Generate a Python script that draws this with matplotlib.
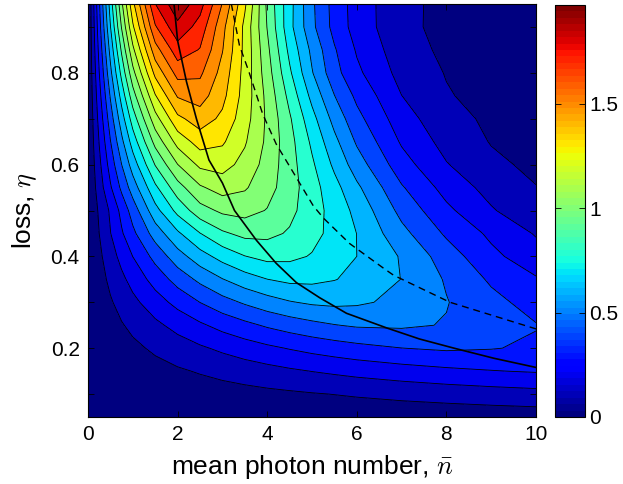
import numpy as np
import matplotlib
matplotlib.use('Agg')
import matplotlib.pyplot as plt
from matplotlib import colors as mcolors
from matplotlib.cm import ScalarMappable

plt.rcParams['font.family'] = ['Liberation Sans', 'DejaVu Sans']
plt.rcParams['mathtext.fontset'] = 'cm'

# grid
n_vals = [0, 0.25, 0.5, 0.75, 1, 1.5, 2, 2.5, 3, 3.5, 4, 4.5, 5, 5.5, 6, 7, 8, 9, 10]
eta_vals = [0.05, 0.1, 0.15, 0.2, 0.25, 0.3, 0.35, 0.4, 0.45, 0.5,
            0.55, 0.6, 0.65, 0.7, 0.75, 0.8, 0.85, 0.9, 0.95]

z_005 = [0, 0.001, 0.003, 0.004, 0.005, 0.008, 0.010, 0.013, 0.015, 0.018, 0.020, 0.022, 0.025, 0.027, 0.029, 0.034, 0.038, 0.043, 0.047]
z_010 = [0, 0.005, 0.010, 0.015, 0.020, 0.030, 0.040, 0.049, 0.059, 0.068, 0.077, 0.085, 0.094, 0.102, 0.111, 0.127, 0.141, 0.154, 0.166]
z_015 = [0, 0.011, 0.023, 0.034, 0.046, 0.067, 0.088, 0.108, 0.128, 0.147, 0.166, 0.185, 0.202, 0.217, 0.232, 0.257, 0.279, 0.296, 0.308]
z_020 = [0, 0.020, 0.040, 0.060, 0.079, 0.116, 0.152, 0.186, 0.219, 0.251, 0.280, 0.306, 0.330, 0.351, 0.370, 0.399, 0.415, 0.405, 0.385]
z_025 = [0, 0.031, 0.062, 0.093, 0.122, 0.178, 0.232, 0.284, 0.333, 0.374, 0.413, 0.445, 0.473, 0.496, 0.512, 0.516, 0.494, 0.455, 0.405]
z_030 = [0, 0.045, 0.090, 0.133, 0.175, 0.255, 0.331, 0.401, 0.462, 0.513, 0.557, 0.593, 0.615, 0.623, 0.615, 0.576, 0.505, 0.430, 0.360]
z_035 = [0, 0.061, 0.122, 0.178, 0.234, 0.339, 0.439, 0.524, 0.596, 0.655, 0.699, 0.723, 0.723, 0.704, 0.675, 0.598, 0.490, 0.385, 0.310]
z_040 = [0, 0.079, 0.157, 0.230, 0.301, 0.432, 0.557, 0.658, 0.737, 0.797, 0.830, 0.823, 0.793, 0.750, 0.700, 0.591, 0.450, 0.325, 0.240]
z_045 = [0, 0.100, 0.197, 0.288, 0.376, 0.544, 0.683, 0.797, 0.884, 0.928, 0.926, 0.889, 0.832, 0.768, 0.699, 0.530, 0.385, 0.280, 0.192]
z_050 = [0, 0.115, 0.215, 0.330, 0.445, 0.665, 0.830, 0.960, 1.020, 1.035, 0.995, 0.927, 0.845, 0.762, 0.672, 0.470, 0.322, 0.210, 0.125]
z_055 = [0, 0.149, 0.288, 0.422, 0.548, 0.779, 0.958, 1.086, 1.144, 1.111, 1.039, 0.945, 0.841, 0.734, 0.620, 0.410, 0.264, 0.164, 0.103]
z_060 = [0, 0.176, 0.342, 0.499, 0.646, 0.905, 1.098, 1.222, 1.237, 1.168, 1.061, 0.942, 0.816, 0.680, 0.549, 0.342, 0.206, 0.121, 0.079]
z_065 = [0, 0.204, 0.396, 0.575, 0.745, 1.033, 1.237, 1.344, 1.314, 1.211, 1.079, 0.936, 0.781, 0.627, 0.487, 0.288, 0.165, 0.095, 0.062]
z_070 = [0, 0.233, 0.451, 0.654, 0.847, 1.160, 1.376, 1.450, 1.379, 1.242, 1.083, 0.913, 0.734, 0.566, 0.431, 0.243, 0.134, 0.082, 0.052]
z_075 = [0, 0.265, 0.510, 0.739, 0.956, 1.292, 1.510, 1.544, 1.429, 1.259, 1.072, 0.869, 0.671, 0.502, 0.378, 0.201, 0.108, 0.066, 0.044]
z_080 = [0, 0.298, 0.574, 0.830, 1.068, 1.428, 1.637, 1.619, 1.464, 1.265, 1.047, 0.817, 0.607, 0.436, 0.321, 0.166, 0.095, 0.057, 0.037]
z_085 = [0, 0.329, 0.633, 0.916, 1.176, 1.558, 1.756, 1.694, 1.505, 1.273, 1.024, 0.774, 0.576, 0.410, 0.290, 0.141, 0.081, 0.050, 0.030]
z_090 = [0, 0.361, 0.696, 1.007, 1.284, 1.689, 1.872, 1.760, 1.533, 1.273, 0.996, 0.732, 0.524, 0.367, 0.258, 0.125, 0.073, 0.045, 0.027]
z_095 = [0, 0.387, 0.745, 1.079, 1.373, 1.798, 1.972, 1.840, 1.595, 1.318, 0.980, 0.735, 0.518, 0.362, 0.255, 0.126, 0.073, 0.043, 0.026]

Z = np.array([z_005, z_010, z_015, z_020, z_025, z_030, z_035, z_040, z_045, z_050,
              z_055, z_060, z_065, z_070, z_075, z_080, z_085, z_090, z_095])

# optimum over n (solid) and over eta (dashed)
solid_n = [1.92, 2.0, 2.2, 2.42, 2.7, 3.0, 3.27, 3.76, 4.2, 4.65, 5.17, 5.77, 6.67, 7.4, 8.17, 9.06, 10.0]
solid_eta = [0.95, 0.87, 0.78, 0.70, 0.61, 0.56, 0.50, 0.435, 0.385, 0.343, 0.31, 0.276, 0.244, 0.22, 0.2, 0.178, 0.158]
dash_n = [3.2, 3.38, 3.6, 3.9, 4.2, 4.6, 5.03, 5.26, 5.84, 6.6, 6.82, 8.08, 10.0]
dash_eta = [0.95, 0.86, 0.80, 0.71, 0.645, 0.58, 0.51, 0.483, 0.428, 0.374, 0.359, 0.30, 0.242]

levels = np.arange(0, 2.0, 0.1)
zmax = Z.max()
jet = plt.get_cmap('jet', 64)
norm = mcolors.Normalize(0, zmax)
fill_levels = list(levels) + [zmax + 1e-6]
fill_colors = [jet(norm(v)) for v in levels]

fig = plt.figure(figsize=(6.23, 4.84), dpi=100)
ax = fig.add_axes([88/623, 1-417/484, 448/623, 413/484])

ax.contourf(n_vals, eta_vals, Z, levels=fill_levels, colors=fill_colors)
ax.contour(n_vals, eta_vals, Z, levels=levels[1:], colors='k', linewidths=0.6)
ax.plot(solid_n, solid_eta, color='k', lw=1.2)
ax.plot(dash_n, dash_eta, color='k', lw=1.0, ls=(0, (5, 3.5)))

ax.set_xlim(0, 10)
ax.set_ylim(0.05, 0.95)
ax.set_xticks([0, 2, 4, 6, 8, 10])
ax.set_xticklabels(['0', '2', '4', '6', '8', '10'])
yt = [0.1, 0.2, 0.3, 0.4, 0.5, 0.6, 0.7, 0.8, 0.9]
ax.set_yticks(yt)
ax.set_yticklabels(['', '0.2', '', '0.4', '', '0.6', '', '0.8', ''])
ax.tick_params(direction='in', top=True, right=True, length=4, width=0.6,
               labelsize=15, pad=6)
for s in ax.spines.values():
    s.set_linewidth(0.8)

ax.set_xlabel(r'mean photon number, $\bar{n}$', fontsize=19, labelpad=6)
ax.set_ylabel(r'loss, $\eta$', fontsize=19, labelpad=8)

cax = fig.add_axes([555/623, 1-417/484, 30/623, 412/484])
sm = ScalarMappable(norm=norm, cmap=jet)
cb = fig.colorbar(sm, cax=cax)
cb.set_ticks([0, 0.5, 1, 1.5])
cb.set_ticklabels(['0', '0.5', '1', '1.5'])
cb.ax.tick_params(direction='in', left=True, right=True, length=4, width=0.6,
                  labelsize=15, pad=3)
cb.outline.set_linewidth(0.8)

fig.savefig('out.png', dpi=100)
